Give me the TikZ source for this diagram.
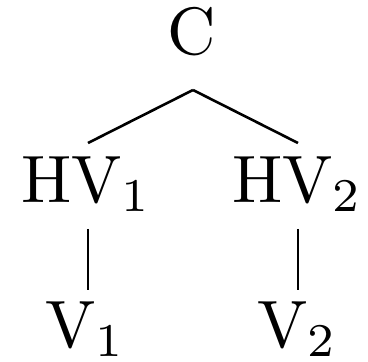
\documentclass[tikz,border=0pt]{standalone}
\usepackage{fontspec}
\newfontfamily\tenrm{lmroman10-regular.otf}
\newfontfamily\sevenrm{lmroman7-regular.otf}
\newcommand{\subidx}[1]{\raisebox{-9pt}{\sevenrm\fontsize{47}{50}\selectfont #1}}
\begin{document}
\begin{tikzpicture}[x=1pt,y=1pt,
  lbl/.style={inner sep=0pt,anchor=base,font=\tenrm\fontsize{67}{80}\selectfont},
  edge/.style={line width=2.6pt}]
\useasboundingbox (0,0) rectangle (368,362);
\node[lbl] (C) at (192,307) {C};
\node[lbl] (HV1) at (85,159) {HV\subidx{1}};
\node[lbl] (HV2) at (296,159) {HV\subidx{2}};
\node[lbl] (V1) at (84,14) {V\subidx{1}};
\node[lbl] (V2) at (296,14) {V\subidx{2}};
\draw[edge] ([xshift=1pt,yshift=-35pt]C.base) -- ([xshift=3pt,yshift=60pt]HV1.base);
\draw[edge] ([xshift=1pt,yshift=-35pt]C.base) -- ([xshift=2pt,yshift=60pt]HV2.base);
\draw[edge] ([xshift=3pt,yshift=-26pt]HV1.base) -- ([xshift=4pt,yshift=58pt]V1.base);
\draw[edge] ([xshift=2pt,yshift=-26pt]HV2.base) -- ([xshift=2pt,yshift=58pt]V2.base);
\end{tikzpicture}
\end{document}
